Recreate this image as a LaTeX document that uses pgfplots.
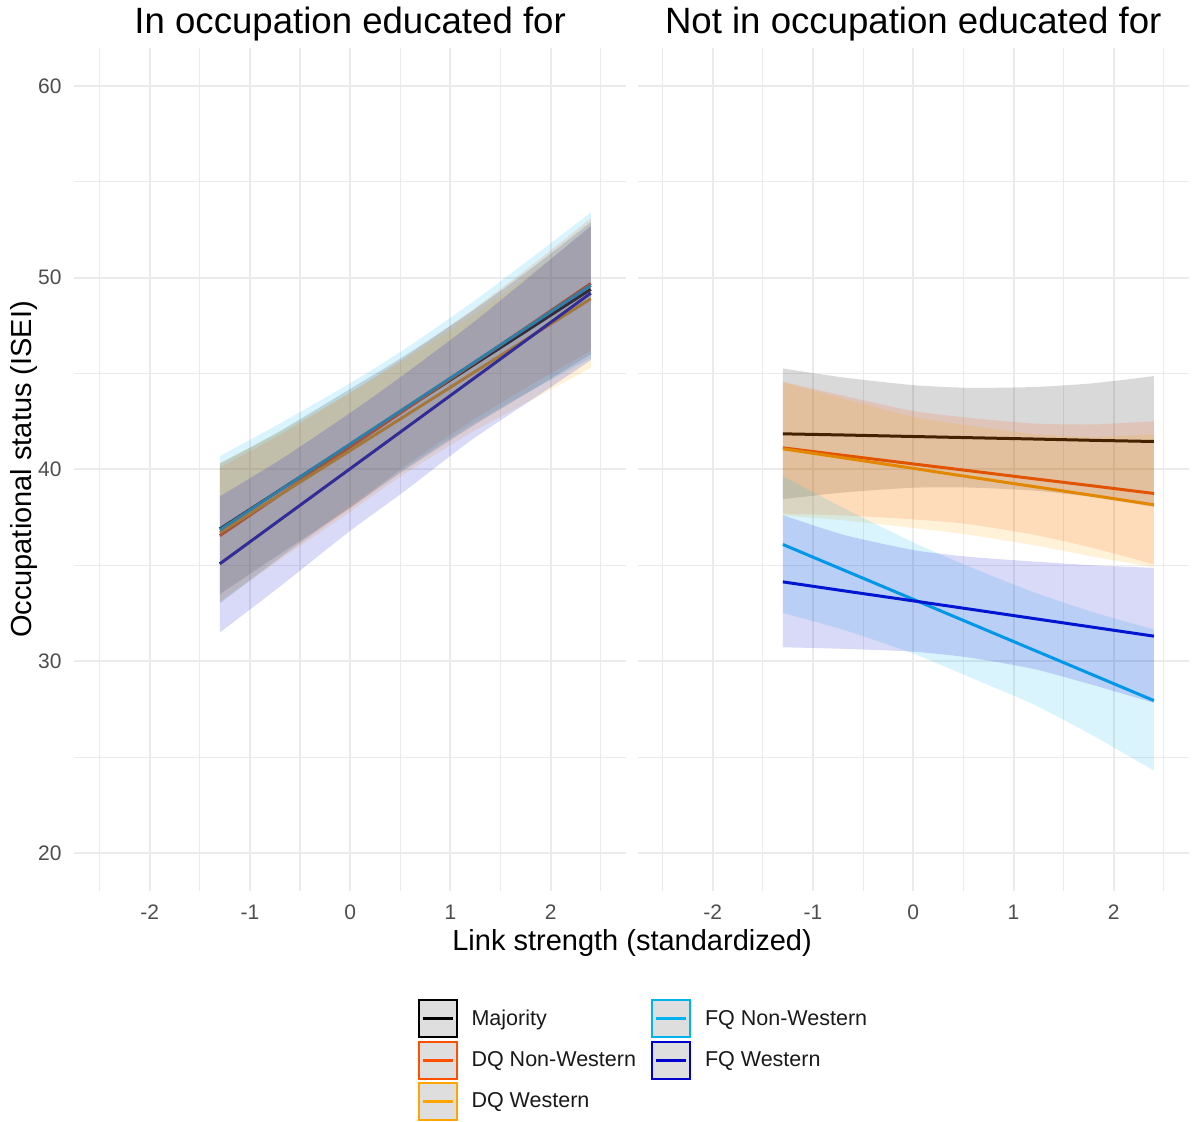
\documentclass[border=0pt]{standalone}
\usepackage{fontspec}
\setmainfont{Liberation Sans}
\usepackage{pgfplots}
\usepackage{pgfplotstable}
\pgfplotsset{compat=1.18}
\usepgfplotslibrary{fillbetween}

\definecolor{cMaj}{RGB}{0,0,0}
\definecolor{cDQN}{RGB}{255,80,0}
\definecolor{cDQW}{RGB}{255,165,0}
\definecolor{cFQN}{RGB}{0,178,238}
\definecolor{cFQW}{RGB}{0,0,205}
\definecolor{gridc}{RGB}{235,235,235}
\definecolor{tickc}{RGB}{77,77,77}
\definecolor{keyfill}{RGB}{222,222,222}

\newcommand\tickfont{\fontsize{10.5pt}{12pt}\selectfont}
\newcommand\labfont{\fontsize{14.5pt}{17pt}\selectfont}
\newcommand\stripfont{\fontsize{18.3pt}{21pt}\selectfont}
\newcommand\legfont{\fontsize{10.75pt}{12pt}\selectfont}

% predicted ISEI with confidence band: x, fit, lower, upper
% --- In occupation educated for
\pgfplotstableread{
x fit lo hi
-1.3 36.90 33.50 40.30
-0.7 38.93 35.60 42.00
0.0 41.29 38.00 44.20
0.55 43.15 40.00 45.95
1.2 45.35 42.20 48.20
1.8 47.37 44.10 50.45
2.4 49.40 46.00 52.90
}\inMaj
\pgfplotstableread{
x fit lo hi
-1.3 36.55 33.10 40.10
-0.7 38.68 35.40 41.80
0.0 41.17 38.00 44.00
0.55 43.12 40.20 45.85
1.2 45.43 42.50 48.25
1.8 47.56 44.40 50.60
2.4 49.70 46.20 53.10
}\inDQN
\pgfplotstableread{
x fit lo hi
-1.3 36.70 33.05 40.35
-0.7 38.68 35.30 41.95
0.0 40.99 37.80 44.00
0.55 42.80 39.80 45.75
1.2 44.95 41.90 47.95
1.8 46.93 43.60 50.20
2.4 48.90 45.30 52.60
}\inDQW
\pgfplotstableread{
x fit lo hi
-1.3 36.85 33.00 40.70
-0.7 38.92 35.40 42.40
0.0 41.33 38.10 44.50
0.55 43.22 40.10 46.30
1.2 45.46 42.30 48.65
1.8 47.53 44.10 51.00
2.4 49.60 45.80 53.40
}\inFQN
\pgfplotstableread{
x fit lo hi
-1.3 35.08 31.50 38.60
-0.7 37.37 33.90 40.50
0.0 40.04 36.80 42.95
0.55 42.14 38.90 45.00
1.2 44.62 41.50 47.55
1.8 46.91 43.60 50.10
2.4 49.20 45.70 52.70
}\inFQW
% --- Not in occupation educated for
\pgfplotstableread{
x fit lo hi
-1.3 41.86 38.45 45.27
-0.7 41.80 38.80 44.80
0.0 41.72 39.05 44.40
0.55 41.66 39.06 44.26
1.2 41.59 38.90 44.30
1.8 41.52 38.55 44.50
2.4 41.46 38.05 44.87
}\outMaj
\pgfplotstableread{
x fit lo hi
-1.3 41.13 37.70 44.57
-0.7 40.74 37.60 43.85
0.0 40.29 37.40 43.05
0.55 39.94 37.15 42.70
1.2 39.52 36.60 42.40
1.8 39.14 35.90 42.35
2.4 38.75 35.05 42.52
}\outDQN
\pgfplotstableread{
x fit lo hi
-1.3 41.08 37.60 44.55
-0.7 40.61 37.35 43.70
0.0 40.06 36.95 42.75
0.55 39.62 36.60 42.30
1.2 39.11 36.05 41.85
1.8 38.64 35.45 41.70
2.4 38.16 34.90 41.85
}\outDQW
\pgfplotstableread{
x fit lo hi
-1.3 36.09 32.52 39.65
-0.7 34.77 31.65 38.00
0.0 33.23 30.40 36.20
0.55 32.02 29.20 34.95
1.2 30.59 27.75 33.60
1.8 29.27 26.10 32.55
2.4 27.95 24.30 31.66
}\outFQN
\pgfplotstableread{
x fit lo hi
-1.3 34.14 30.73 37.62
-0.7 33.68 30.65 36.60
0.0 33.15 30.50 35.80
0.55 32.73 30.20 35.45
1.2 32.23 29.60 35.20
1.8 31.77 28.75 35.00
2.4 31.31 27.83 34.87
}\outFQW

% fitted line (kept beneath the ribbons)
\newcommand\fitline[2]{%
  \addplot[#2, line width=1.5pt, forget plot, on layer=axis tick labels] table[x=x, y=fit]{#1};}
% confidence ribbon
\newcommand\band[3]{%
  \addplot[name path=u#3, draw=none, smooth, tension=0.4, forget plot] table[x=x, y=hi]{#1};
  \addplot[name path=l#3, draw=none, smooth, tension=0.4, forget plot] table[x=x, y=lo]{#1};
  \addplot[fill=#2, fill opacity=0.15, draw=none, forget plot] fill between[of=u#3 and l#3];}

\pgfplotsset{
  panel/.style={
    set layers,
    scale only axis, width=275.75pt, height=421.9pt,
    xmin=-2.75, xmax=2.75, ymin=18, ymax=62,
    xtick={-2,-1,0,1,2}, xticklabels={-2,-1,0,1,2},
    minor xtick={-2.5,-1.5,-0.5,0.5,1.5,2.5},
    ytick={20,30,40,50,60},
    minor ytick={25,35,45,55},
    grid=both,
    major grid style={gridc, line width=1pt},
    minor grid style={gridc, line width=0.55pt},
    axis line style={draw=none},
    major tick length=0pt, minor tick length=0pt,
    xticklabel style={font=\tickfont, text=tickc, anchor=north, inner sep=0pt, yshift=-6.5pt},
    yticklabel style={font=\tickfont, text=tickc, anchor=east, inner sep=0pt, xshift=-6.2pt},
    title style={at={(axis description cs:0.5,1)}, anchor=base, yshift=0.8pt, font=\stripfont, inner sep=0pt},
  },
  keybox/.style={legend image code/.code={%
    \draw[draw=#1, fill=keyfill, line width=1pt] (0pt,-9.25pt) rectangle (19pt,9.25pt);
    \draw[#1, line width=1.5pt] (2pt,0pt) -- (17pt,0pt);}},
}

\begin{document}
\begin{tikzpicture}
% page extent
\path (-37.2pt,-113.8pt) rectangle (558.8pt,445.7pt);

\begin{axis}[panel, at={(0pt,0pt)},
  title={In occupation educated for},
  yticklabels={20,30,40,50,60},
  ylabel={Occupational status (ISEI)},
  ylabel style={at={(axis description cs:-0.0771,0.5)}, anchor=base, font=\labfont, inner sep=0pt},
  xlabel={Link strength (standardized)},
  xlabel style={at={(axis description cs:1.0112,-0.0695)}, anchor=base, font=\labfont, inner sep=0pt},
  legend style={draw=none, fill=none, at={(axis description cs:0.6222,-0.1281)}, anchor=north west,
    font=\legfont, text=black!90, inner sep=0pt, outer sep=0pt, row sep=1.2pt,
    nodes={inner sep=0pt},
    /tikz/every odd column/.append style={column sep=7pt},
    /tikz/every even column/.append style={column sep=7.5pt}},
  legend columns=2, legend cell align=left,
]
\addlegendimage{keybox=cMaj}\addlegendentry{Majority}
\addlegendimage{keybox=cFQN}\addlegendentry{FQ Non-Western}
\addlegendimage{keybox=cDQN}\addlegendentry{DQ Non-Western}
\addlegendimage{keybox=cFQW}\addlegendentry{FQ Western}
\addlegendimage{keybox=cDQW}\addlegendentry{DQ Western}

\fitline{\inMaj}{cMaj}
\fitline{\inDQN}{cDQN}
\fitline{\inDQW}{cDQW}
\fitline{\inFQN}{cFQN}
\fitline{\inFQW}{cFQW}
\band{\inMaj}{cMaj}{inMaj}
\band{\inDQN}{cDQN}{inDQN}
\band{\inDQW}{cDQW}{inDQW}
\band{\inFQN}{cFQN}{inFQN}
\band{\inFQW}{cFQW}{inFQW}
\end{axis}

\begin{axis}[panel, at={(281.55pt,0pt)},
  title={Not in occupation educated for},
  yticklabels={},
]
\fitline{\outMaj}{cMaj}
\fitline{\outDQN}{cDQN}
\fitline{\outDQW}{cDQW}
\fitline{\outFQN}{cFQN}
\fitline{\outFQW}{cFQW}
\band{\outMaj}{cMaj}{outMaj}
\band{\outDQN}{cDQN}{outDQN}
\band{\outDQW}{cDQW}{outDQW}
\band{\outFQN}{cFQN}{outFQN}
\band{\outFQW}{cFQW}{outFQW}
\end{axis}
\end{tikzpicture}
\end{document}
